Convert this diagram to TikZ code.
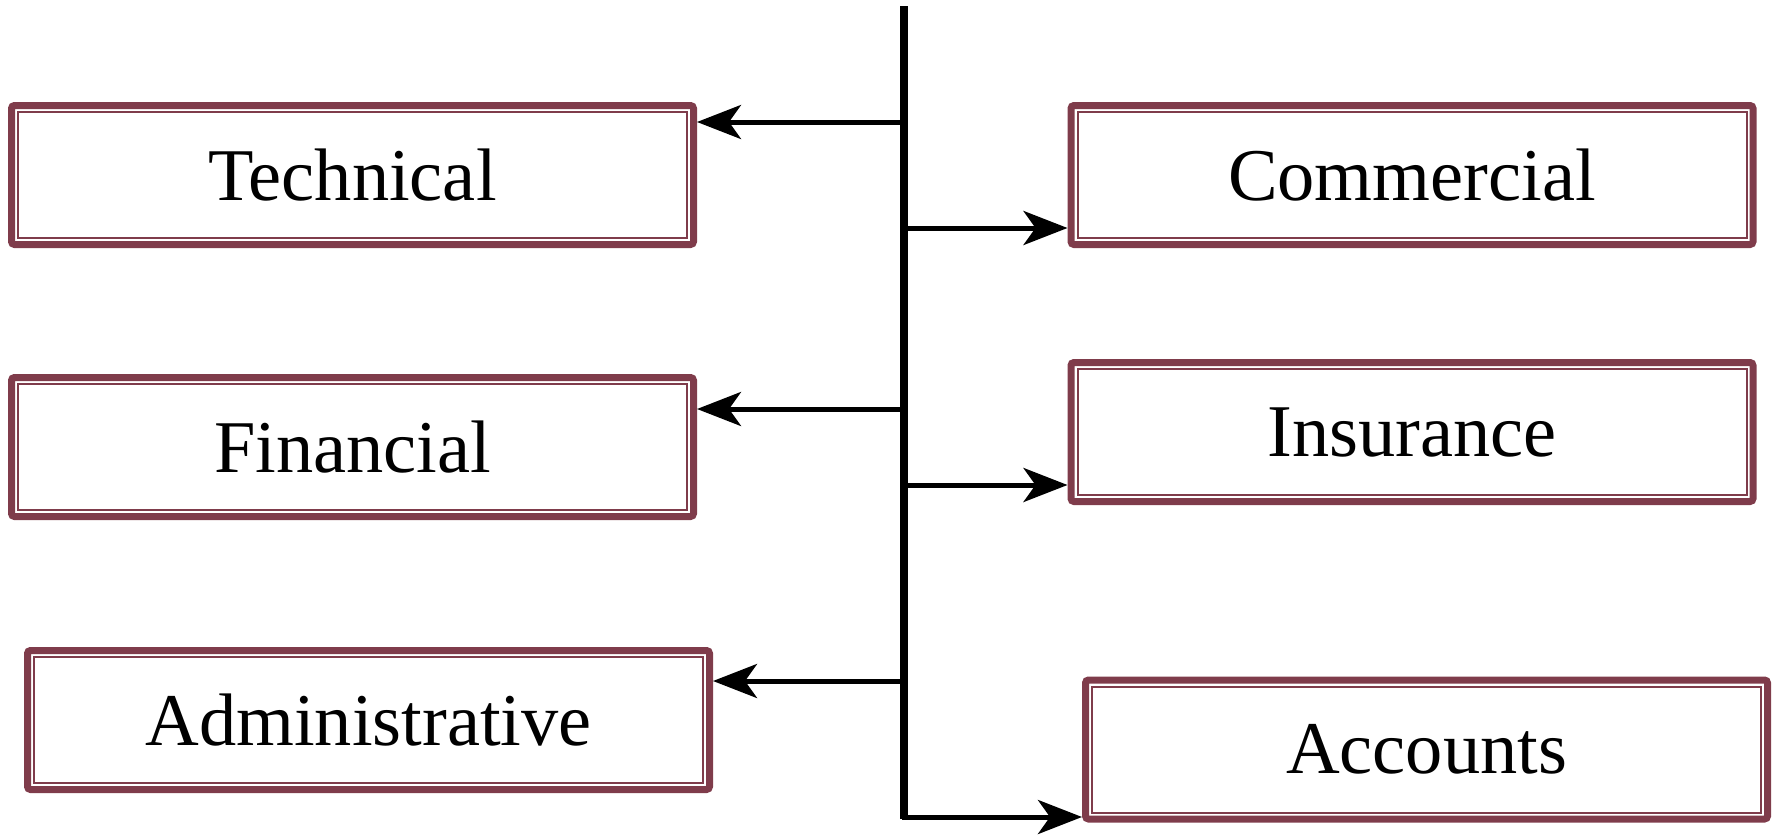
\documentclass[tikz,border=0pt]{standalone}
\usepackage{fontspec}
\setmainfont{Liberation Serif}
\usetikzlibrary{arrows.meta}
\definecolor{boxc}{RGB}{127,60,75}
\tikzset{
  unitbox/.style={draw=boxc, line width=3.5pt, rounded corners=1.5pt,
    minimum width=341pt, minimum height=69.5pt, inner sep=0pt,
    font=\fontsize{37.2}{44}\selectfont, text=black},
  innerline/.style={draw=boxc, line width=1pt},
  trunk/.style={draw=black, line width=3.6pt},
  branch/.style={draw=black, line width=2.5pt,
    -{Stealth[length=22pt, width=17pt, inset=6pt]}}
}
\begin{document}
\begin{tikzpicture}[x=0.5pt,y=-0.5pt]
\useasboundingbox (0,0) rectangle (1777,835);
% boxes
\node[unitbox] (tech) at (352.5,175) {Technical};
\node[unitbox] (fin)  at (352.5,447) {Financial};
\node[unitbox] (adm)  at (368.5,720) {Administrative};
\node[unitbox] (com)  at (1412,175) {Commercial};
\node[unitbox] (ins)  at (1412,432) {Insurance};
\node[unitbox] (acc)  at (1426.5,749.5) {Accounts};
\foreach \n in {tech,fin,adm,com,ins,acc}{
  \draw[innerline] ([shift={(5pt,-5pt)}]\n.north west) rectangle ([shift={(-5pt,5pt)}]\n.south east);
}
% trunk
\coordinate (top) at (904,6);
\coordinate (bot) at (904,819);
\draw[trunk] (top) -- (bot);
% branch points
\coordinate (jt) at (904,122);
\coordinate (jc) at (904,228);
\coordinate (jf) at (904,409);
\coordinate (ji) at (904,485);
\coordinate (ja) at (904,681);
\coordinate (jacc) at (902,817);
\draw[branch] (jt) -- (jt -| tech.east);
\draw[branch] (jf) -- (jf -| fin.east);
\draw[branch] (ja) -- (ja -| adm.east);
\draw[branch] (jc) -- (jc -| com.west);
\draw[branch] (ji) -- (ji -| ins.west);
\draw[branch] (jacc) -- (jacc -| acc.west);
\end{tikzpicture}
\end{document}
